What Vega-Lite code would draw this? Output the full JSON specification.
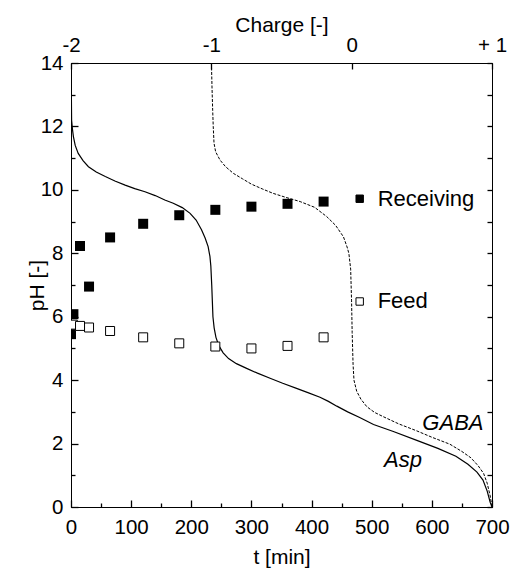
{
  "$schema": "https://vega.github.io/schema/vega-lite/v6.json",
  "width": 421,
  "height": 444,
  "autosize": {"type": "none"},
  "padding": {"left": 71, "top": 63, "right": 18, "bottom": 63},
  "config": {
    "font": "Liberation Sans",
    "view": {"stroke": "black", "strokeWidth": 1},
    "axis": {
      "domainColor": "black", "tickColor": "black", "labelColor": "black", "titleColor": "black",
      "labelFontSize": 20.5, "titleFontSize": 21, "titleFontWeight": "normal",
      "grid": false, "labelFlush": false, "labelOverlap": false, "tickWidth": 1.3
    }
  },
  "datasets": {
    "asp": [
      {"t": 0.3, "pH": 14}, {"t": 0.5, "pH": 13.2}, {"t": 1, "pH": 12.2}, {"t": 2.5, "pH": 11.9},
      {"t": 4, "pH": 11.68}, {"t": 7, "pH": 11.4}, {"t": 12, "pH": 11.15}, {"t": 20, "pH": 10.92},
      {"t": 29, "pH": 10.73}, {"t": 42, "pH": 10.56}, {"t": 57, "pH": 10.42}, {"t": 73, "pH": 10.28},
      {"t": 90, "pH": 10.15}, {"t": 106, "pH": 10.04}, {"t": 123, "pH": 9.94}, {"t": 140, "pH": 9.82},
      {"t": 156, "pH": 9.68}, {"t": 170, "pH": 9.58}, {"t": 185, "pH": 9.44}, {"t": 198, "pH": 9.26},
      {"t": 208, "pH": 9.05}, {"t": 217, "pH": 8.74}, {"t": 223, "pH": 8.48}, {"t": 228, "pH": 8.21},
      {"t": 231, "pH": 7.9}, {"t": 232.5, "pH": 7.6}, {"t": 234, "pH": 7.0}, {"t": 235, "pH": 6.5},
      {"t": 236, "pH": 6.0}, {"t": 238, "pH": 5.65}, {"t": 241, "pH": 5.35}, {"t": 246, "pH": 5.08},
      {"t": 253, "pH": 4.86}, {"t": 262, "pH": 4.68}, {"t": 275, "pH": 4.52}, {"t": 292, "pH": 4.37},
      {"t": 310, "pH": 4.22}, {"t": 331, "pH": 4.06}, {"t": 352, "pH": 3.9}, {"t": 375, "pH": 3.74},
      {"t": 395, "pH": 3.6}, {"t": 414, "pH": 3.46}, {"t": 428, "pH": 3.33}, {"t": 442, "pH": 3.18},
      {"t": 460, "pH": 3.0}, {"t": 480, "pH": 2.82}, {"t": 503, "pH": 2.6}, {"t": 536, "pH": 2.38},
      {"t": 575, "pH": 2.1}, {"t": 610, "pH": 1.85}, {"t": 640, "pH": 1.6}, {"t": 660, "pH": 1.35},
      {"t": 675, "pH": 1.1}, {"t": 685, "pH": 0.85}, {"t": 692, "pH": 0.5}, {"t": 697, "pH": 0.15},
      {"t": 700, "pH": 0}
    ],
    "gaba": [
      {"t": 233.5, "pH": 14}, {"t": 234.5, "pH": 13.2}, {"t": 235.6, "pH": 12.5}, {"t": 236.5, "pH": 12.0},
      {"t": 237.8, "pH": 11.47}, {"t": 240.5, "pH": 11.2}, {"t": 247.8, "pH": 10.94}, {"t": 257, "pH": 10.73},
      {"t": 270, "pH": 10.52}, {"t": 285, "pH": 10.35}, {"t": 300, "pH": 10.18}, {"t": 318, "pH": 10.03},
      {"t": 336, "pH": 9.89}, {"t": 356, "pH": 9.77}, {"t": 381, "pH": 9.63}, {"t": 405, "pH": 9.45},
      {"t": 425, "pH": 9.16}, {"t": 440, "pH": 8.88}, {"t": 453, "pH": 8.52}, {"t": 459, "pH": 8.2},
      {"t": 462, "pH": 8.0}, {"t": 465, "pH": 7.5}, {"t": 466.5, "pH": 6.5}, {"t": 467.5, "pH": 5.5},
      {"t": 469, "pH": 4.5}, {"t": 470.5, "pH": 4.0}, {"t": 475, "pH": 3.65}, {"t": 482, "pH": 3.4},
      {"t": 492, "pH": 3.16}, {"t": 505, "pH": 2.98}, {"t": 519, "pH": 2.85}, {"t": 545, "pH": 2.62},
      {"t": 575, "pH": 2.4}, {"t": 600, "pH": 2.2}, {"t": 630, "pH": 1.98}, {"t": 650, "pH": 1.75},
      {"t": 665, "pH": 1.55}, {"t": 677, "pH": 1.3}, {"t": 686, "pH": 1.06}, {"t": 692, "pH": 0.75},
      {"t": 697, "pH": 0.35}, {"t": 700, "pH": 0}
    ],
    "receiving": [
      {"t": 0, "pH": 5.45}, {"t": 4, "pH": 6.08}, {"t": 15, "pH": 8.23}, {"t": 30, "pH": 6.95},
      {"t": 65, "pH": 8.5}, {"t": 120, "pH": 8.93}, {"t": 180, "pH": 9.2}, {"t": 240, "pH": 9.37},
      {"t": 300, "pH": 9.47}, {"t": 360, "pH": 9.56}, {"t": 420, "pH": 9.63}
    ],
    "feed": [
      {"t": 3, "pH": 5.75}, {"t": 15, "pH": 5.71}, {"t": 30, "pH": 5.66}, {"t": 65, "pH": 5.55},
      {"t": 120, "pH": 5.35}, {"t": 180, "pH": 5.16}, {"t": 240, "pH": 5.06}, {"t": 300, "pH": 5.0},
      {"t": 360, "pH": 5.08}, {"t": 420, "pH": 5.35}
    ],
    "legend": [
      {"t": 480, "pH": 9.72, "label": "Receiving", "series": "Receiving"},
      {"t": 480, "pH": 6.48, "label": "Feed", "series": "Feed"}
    ],
    "curvelabels": [
      {"t": 635, "pH": 2.65, "label": "GABA"},
      {"t": 552, "pH": 1.48, "label": "Asp"}
    ]
  },
  "layer": [
    {
      "data": {"name": "asp"},
      "mark": {"type": "line", "color": "black", "strokeWidth": 1.2, "clip": true},
      "encoding": {
        "x": {"field": "t", "type": "quantitative", "scale": {"domain": [0, 700], "nice": false, "zero": false},
          "axis": {"orient": "bottom", "values": [0, 100, 200, 300, 400, 500, 600, 700], "tickSize": -7, "labelPadding": 17, "title": "t [min]", "titleY": 50, "titleBaseline": "middle"}},
        "y": {"field": "pH", "type": "quantitative", "scale": {"domain": [0, 14], "nice": false, "zero": false},
          "axis": {"orient": "left", "values": [0, 2, 4, 6, 8, 10, 12, 14], "tickSize": -7, "labelPadding": 15, "title": "pH [-]", "titleX": -34, "titleY": 222, "titleBaseline": "middle", "titleAlign": "center"}},
        "order": {"field": "t", "type": "quantitative"}
      }
    },
    {
      "data": {"name": "gaba"},
      "mark": {"type": "line", "color": "black", "strokeWidth": 1, "strokeDash": [3, 1.5], "clip": true},
      "encoding": {
        "x": {"field": "t", "type": "quantitative",
          "axis": {"orient": "top", "values": [0, 233.333, 466.667, 700], "labelExpr": "datum.value < 1 ? '-2' : datum.value < 300 ? '-1' : datum.value < 500 ? '0' : '+ 1'", "tickSize": -6, "labelPadding": 14, "title": "Charge [-]", "titleY": -38, "titleBaseline": "middle"}},
        "y": {"field": "pH", "type": "quantitative",
          "axis": {"orient": "right", "values": [0, 2, 4, 6, 8, 10, 12, 14], "tickSize": -5, "labels": false, "title": null}},
        "order": {"field": "t", "type": "quantitative"}
      }
    },
    {
      "data": {"name": "receiving"},
      "mark": {"type": "point", "shape": "square", "filled": true, "color": "black", "size": 100, "opacity": 1, "clip": true},
      "encoding": {
        "x": {"field": "t", "type": "quantitative",
          "axis": {"orient": "bottom", "values": [50, 150, 250, 350, 450, 550, 650], "tickSize": -4, "labels": false, "domain": false, "title": null}},
        "y": {"field": "pH", "type": "quantitative",
          "axis": {"orient": "left", "values": [1, 3, 5, 7, 9, 11, 13], "tickSize": -4, "labels": false, "domain": false, "title": null}}
      }
    },
    {
      "data": {"name": "feed"},
      "mark": {"type": "point", "shape": "square", "filled": true, "fill": "white", "stroke": "black", "strokeWidth": 1, "size": 81, "opacity": 1, "clip": true},
      "encoding": {
        "x": {"field": "t", "type": "quantitative", "axis": null},
        "y": {"field": "pH", "type": "quantitative",
          "axis": {"orient": "right", "values": [1, 3, 5, 7, 9, 11, 13], "tickSize": -5, "labels": false, "domain": false, "title": null}}
      }
    },
    {
      "data": {"name": "legend"},
      "mark": {"type": "point", "shape": "square", "filled": true, "stroke": "black", "strokeWidth": 1, "size": 55, "opacity": 1},
      "encoding": {
        "x": {"field": "t", "type": "quantitative", "axis": null},
        "y": {"field": "pH", "type": "quantitative", "axis": null},
        "fill": {"field": "series", "type": "nominal", "scale": {"domain": ["Receiving", "Feed"], "range": ["black", "white"]}, "legend": null}
      }
    },
    {
      "data": {"name": "legend"},
      "mark": {"type": "text", "align": "left", "baseline": "middle", "fontSize": 22, "dx": 18, "color": "black"},
      "encoding": {
        "x": {"field": "t", "type": "quantitative", "axis": null},
        "y": {"field": "pH", "type": "quantitative", "axis": null},
        "text": {"field": "label"}
      }
    },
    {
      "data": {"name": "curvelabels"},
      "mark": {"type": "text", "align": "center", "baseline": "middle", "fontSize": 22, "fontStyle": "italic", "color": "black"},
      "encoding": {
        "x": {"field": "t", "type": "quantitative", "axis": null},
        "y": {"field": "pH", "type": "quantitative", "axis": null},
        "text": {"field": "label"}
      }
    }
  ],
  "resolve": {"axis": {"x": "independent", "y": "independent"}}
}
